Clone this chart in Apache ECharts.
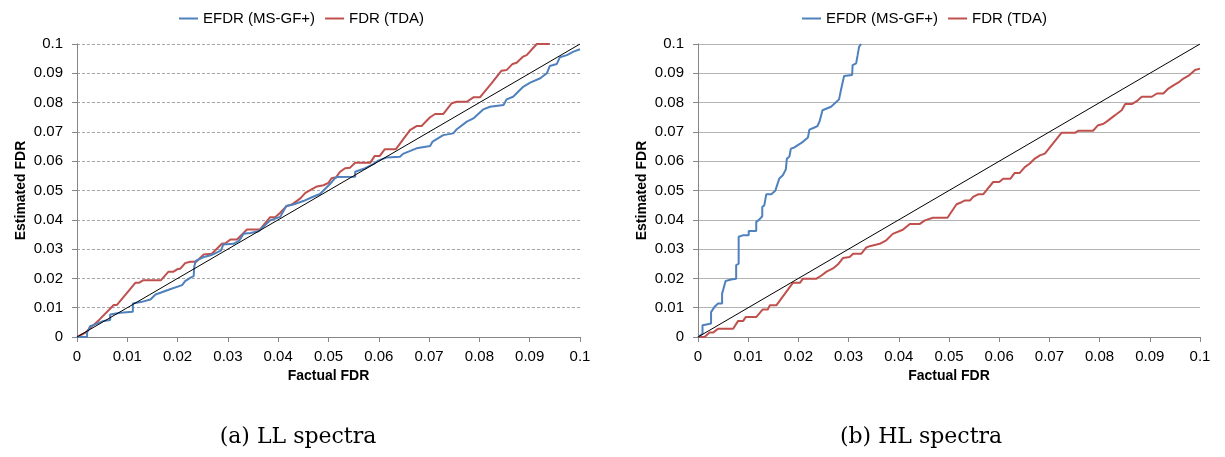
<!DOCTYPE html>
<html>
<head>
<meta charset="utf-8">
<script src="https://cdn.jsdelivr.net/npm/echarts@6/dist/echarts.min.js"></script>
<style>
html,body{margin:0;padding:0;background:#fff;}
#chart{width:1225px;height:457px;}
</style>
</head>
<body>
<div id="chart"></div>
<script>
// ---- data ----
var tickLabels = ['0','0.01','0.02','0.03','0.04','0.05','0.06','0.07','0.08','0.09','0.1'];
var seriesNames = ['EFDR (MS-GF+)', 'FDR (TDA)'];
var captions = ['(a) LL spectra', '(b) HL spectra'];
var axisNameX = 'Factual FDR';
var axisNameY = 'Estimated FDR';

var diagonal = [[0,0],[0.1,0.1]];

var llEFDR = [[0,0],[0.002,0],[0.002,0.0015],[0.0026,0.0037],[0.0035,0.0042],[0.0053,0.0055],[0.0066,0.0058],[0.0066,0.0077],[0.0086,0.0083],[0.0111,0.0086],[0.0111,0.0114],[0.0129,0.012],[0.0146,0.0128],[0.0156,0.0145],[0.0166,0.0151],[0.0185,0.0163],[0.0209,0.0177],[0.0215,0.0191],[0.0225,0.0202],[0.0232,0.0208],[0.0233,0.0239],[0.0236,0.026],[0.0252,0.0273],[0.0268,0.028],[0.0286,0.0295],[0.0291,0.0316],[0.0311,0.0318],[0.0322,0.0328],[0.0331,0.0352],[0.0345,0.0355],[0.0361,0.0361],[0.0384,0.0398],[0.0404,0.041],[0.0416,0.0447],[0.043,0.0452],[0.045,0.0464],[0.0467,0.0477],[0.0483,0.0488],[0.0503,0.0522],[0.0513,0.0542],[0.0517,0.0546],[0.0553,0.0547],[0.0553,0.0564],[0.0573,0.0576],[0.0589,0.059],[0.0599,0.0602],[0.0616,0.0613],[0.0642,0.0615],[0.0648,0.0625],[0.0675,0.0644],[0.0702,0.0652],[0.0707,0.0667],[0.0728,0.0689],[0.0748,0.0695],[0.0755,0.0709],[0.0775,0.0735],[0.0788,0.0746],[0.0808,0.0777],[0.0821,0.0786],[0.0848,0.0792],[0.0854,0.0811],[0.0867,0.082],[0.0887,0.0854],[0.0901,0.0868],[0.0921,0.0883],[0.0934,0.09],[0.094,0.0925],[0.0954,0.0932],[0.096,0.0955],[0.0974,0.0962],[0.0987,0.0974],[0.1,0.0982]];

var llFDR = [[0,0],[0.0017,0.0015],[0.0027,0.0032],[0.0045,0.006],[0.0073,0.0109],[0.0079,0.0109],[0.0116,0.0185],[0.0123,0.0185],[0.0132,0.0194],[0.0167,0.0194],[0.0182,0.0223],[0.0192,0.0223],[0.0199,0.0231],[0.0206,0.0234],[0.0215,0.0252],[0.0225,0.0257],[0.0237,0.0257],[0.0252,0.0282],[0.0268,0.0284],[0.0288,0.0318],[0.0295,0.032],[0.0305,0.0333],[0.0318,0.0333],[0.0331,0.0355],[0.0338,0.0367],[0.0364,0.0367],[0.0384,0.0409],[0.0394,0.0409],[0.0404,0.0424],[0.0417,0.0447],[0.0427,0.0452],[0.0444,0.0473],[0.0454,0.0492],[0.0477,0.0514],[0.049,0.0518],[0.05,0.0526],[0.0506,0.0542],[0.0515,0.0545],[0.0523,0.0564],[0.0533,0.0576],[0.0543,0.0578],[0.0553,0.0595],[0.0583,0.0595],[0.0592,0.0618],[0.0602,0.0618],[0.0612,0.0641],[0.0634,0.0641],[0.0662,0.0706],[0.0675,0.072],[0.0685,0.072],[0.0702,0.075],[0.0712,0.0761],[0.0728,0.0761],[0.0745,0.0798],[0.0755,0.0803],[0.0775,0.0803],[0.0788,0.0818],[0.0801,0.0818],[0.0824,0.0866],[0.0844,0.0909],[0.0854,0.0911],[0.0866,0.0932],[0.0874,0.0936],[0.0887,0.0957],[0.0894,0.0962],[0.0914,0.1],[0.094,0.1]];

var hlEFDR = [[0,0],[0.0009,0.0011],[0.0009,0.004],[0.0017,0.0043],[0.0026,0.0046],[0.0026,0.0085],[0.0033,0.0103],[0.004,0.0114],[0.0048,0.0114],[0.0048,0.0148],[0.0055,0.0191],[0.0066,0.0196],[0.0076,0.0199],[0.0076,0.0245],[0.0081,0.025],[0.0081,0.0342],[0.0089,0.0347],[0.0101,0.0347],[0.0101,0.0362],[0.0116,0.0362],[0.0116,0.0393],[0.0121,0.0399],[0.0128,0.0412],[0.0128,0.0444],[0.0132,0.0449],[0.0136,0.0487],[0.0146,0.0487],[0.0154,0.0499],[0.0157,0.0515],[0.0162,0.0541],[0.0169,0.0552],[0.0175,0.0572],[0.0177,0.0609],[0.0182,0.0615],[0.0185,0.0643],[0.0192,0.0647],[0.0209,0.0666],[0.0219,0.0681],[0.0222,0.0708],[0.0232,0.0715],[0.0238,0.072],[0.0242,0.0735],[0.0248,0.0774],[0.0265,0.0786],[0.0281,0.0811],[0.0285,0.0845],[0.0291,0.0891],[0.0307,0.0894],[0.0308,0.0928],[0.0315,0.0934],[0.0318,0.0962],[0.0321,0.0991],[0.0325,0.1]];

var hlFDR = [[0,0],[0.0013,0],[0.0023,0.0015],[0.003,0.0015],[0.004,0.0028],[0.007,0.0028],[0.008,0.0055],[0.009,0.0055],[0.0095,0.0068],[0.0116,0.0068],[0.0129,0.0094],[0.0139,0.0094],[0.0143,0.0108],[0.0156,0.0108],[0.0189,0.0185],[0.0203,0.0185],[0.0209,0.0199],[0.0236,0.0199],[0.0246,0.021],[0.0256,0.0223],[0.0269,0.0234],[0.0279,0.0248],[0.0289,0.027],[0.0302,0.0273],[0.0309,0.0284],[0.0325,0.0284],[0.0335,0.0305],[0.0342,0.031],[0.0362,0.0318],[0.0375,0.033],[0.0388,0.0352],[0.0408,0.0366],[0.0422,0.0386],[0.0442,0.0386],[0.0452,0.0398],[0.0468,0.0407],[0.0497,0.0407],[0.0515,0.0453],[0.0525,0.046],[0.0532,0.0466],[0.0542,0.0466],[0.0548,0.0478],[0.0558,0.0487],[0.0568,0.0487],[0.0588,0.0529],[0.06,0.0529],[0.0608,0.054],[0.0622,0.054],[0.0631,0.056],[0.0641,0.056],[0.0651,0.058],[0.0661,0.0592],[0.0671,0.0609],[0.0681,0.062],[0.0691,0.0626],[0.0724,0.0697],[0.0751,0.0697],[0.0758,0.0704],[0.0787,0.0704],[0.0797,0.0723],[0.0807,0.0727],[0.0814,0.0735],[0.0827,0.0752],[0.0834,0.0761],[0.0844,0.0774],[0.0851,0.0795],[0.0864,0.0795],[0.0874,0.0805],[0.0884,0.082],[0.0904,0.082],[0.0914,0.0831],[0.0927,0.0831],[0.0937,0.0848],[0.0947,0.0859],[0.0959,0.0871],[0.0967,0.0882],[0.0979,0.0894],[0.099,0.0911],[0.1,0.0916]];

// ---- chart ----
var BLUE = '#4F81BD', RED = '#C0504D', AXIS = '#868686';
var FONT = "'Liberation Sans', Arial, sans-serif";
function fmt(v){ var i = Math.round(v*100); return tickLabels[i] !== undefined ? tickLabels[i] : ''; }

function xAx(gi){
  return {
    type:'value', gridIndex:gi, min:0, max:0.1, interval:0.01,
    name: axisNameX, nameLocation:'middle', nameGap:32,
    nameTextStyle:{fontWeight:'bold', fontSize:14, color:'#000', fontFamily:FONT},
    axisLine:{show:true, lineStyle:{color:AXIS, width:1}},
    axisTick:{show:true, length:5, lineStyle:{color:AXIS}},
    axisLabel:{color:'#000', fontSize:15, margin:12, formatter:fmt, fontFamily:FONT},
    splitLine:{show:false}
  };
}
function yAx(gi, dashed){
  return {
    type:'value', gridIndex:gi, min:0, max:0.1, interval:0.01,
    name: axisNameY, nameLocation:'middle', nameGap:49, nameRotate:90,
    nameTextStyle:{fontWeight:'bold', fontSize:14, color:'#000', fontFamily:FONT},
    axisLine:{show:true, lineStyle:{color:AXIS, width:1}},
    axisTick:{show:true, length:5, lineStyle:{color:AXIS}},
    axisLabel:{color:'#000', fontSize:15, margin:14, formatter:fmt, fontFamily:FONT},
    splitLine:{show:true, lineStyle: dashed ? {color:'#a6a6a6', type:[3,2], width:1} : {color:'#b3b3b3', type:'solid', width:1}}
  };
}
function ln(name, data, color, xi, w, z){
  return {type:'line', name:name, data:data, xAxisIndex:xi, yAxisIndex:xi, symbol:'none',
    lineStyle:{color:color, width:w}, itemStyle:{color:color}, z:z, silent:true};
}
function legend(left){
  return {data:seriesNames, left:left, top:6, icon:'rect', itemWidth:19, itemHeight:2, itemGap:10,
    textStyle:{fontSize:15, color:'#000', fontFamily:FONT}};
}

var chart = echarts.init(document.getElementById('chart'), null, {renderer:'canvas'});
chart.setOption({
  animation:false,
  backgroundColor:'#fff',
  legend:[legend(174), legend(797)],
  grid:[{left:77, right:645, top:44, bottom:120}, {left:698, right:25, top:44, bottom:120}],
  xAxis:[xAx(0), xAx(1)],
  yAxis:[yAx(0,true), yAx(1,false)],
  series:[
    ln(seriesNames[0], llEFDR, BLUE, 0, 2, 3),
    ln(seriesNames[1], llFDR, RED, 0, 2, 2),
    ln('diag1', diagonal, '#000', 0, 1, 4),
    ln(seriesNames[0], hlEFDR, BLUE, 1, 2, 3),
    ln(seriesNames[1], hlFDR, RED, 1, 2, 2),
    ln('diag2', diagonal, '#000', 1, 1, 4)
  ],
  graphic:[
    {type:'text', x:298, y:437, style:{text:captions[0], textAlign:'center', textVerticalAlign:'middle', verticalAlign:'middle', fontSize:22, fontFamily:"'DejaVu Serif', serif", fill:'#000'}},
    {type:'text', x:921, y:437, style:{text:captions[1], textAlign:'center', textVerticalAlign:'middle', verticalAlign:'middle', fontSize:22, fontFamily:"'DejaVu Serif', serif", fill:'#000'}}
  ]
});
</script>
</body>
</html>
